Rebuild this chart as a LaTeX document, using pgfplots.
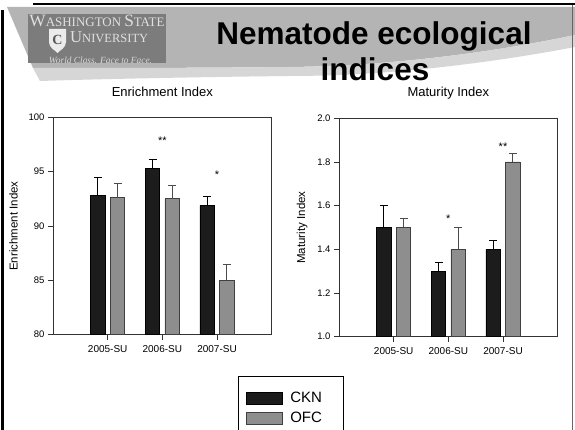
\documentclass[border=0pt]{standalone}
\usepackage{fontspec}
\setmainfont{Liberation Sans}
\newfontfamily\logoserif{Liberation Serif}
\usepackage{graphicx}
\usepackage{pgfplots}
\pgfplotsset{compat=1.18}

\definecolor{ckn}{HTML}{1C1C1C}
\definecolor{ofc}{HTML}{8E8E8E}
\definecolor{swoosh}{HTML}{B4B4B4}
\definecolor{swooshlight}{HTML}{D6D6D6}
\definecolor{logo}{HTML}{7C7C7C}

\pgfplotstableread{
x y e
0 92.8 1.7
1 95.3 0.8
2 91.9 0.8
}\eickn
\pgfplotstableread{
x y e
0 92.6 1.3
1 92.5 1.2
2 85.0 1.5
}\eiofc
\pgfplotstableread{
x y e
0 1.50 0.10
1 1.30 0.04
2 1.40 0.04
}\mickn
\pgfplotstableread{
x y e
0 1.50 0.04
1 1.40 0.10
2 1.80 0.04
}\miofc

\pgfplotsset{
  slideaxis/.style={
    scale only axis, width=218.7pt,
    xmin=-1, xmax=3,
    xtick={0,1,2}, xticklabels={2005-SU,2006-SU,2007-SU},
    tick align=outside, xtick pos=bottom, ytick pos=left,
    major tick length=5pt,
    axis line style={black!80, line width=0.8pt},
    tick style={black!80, line width=0.8pt},
    ticklabel style={font=\fontsize{9.5}{11}\selectfont},
    xticklabel style={yshift=-2pt, font=\fontsize{10}{11}\selectfont},
    /pgf/number format/assume math mode=true,
    ybar, bar width=0.265,
    title style={font=\fontsize{13}{15}\selectfont, anchor=base, at={(0.5,1)}},
    ylabel style={font=\fontsize{11.5}{13}\selectfont, anchor=center},
  },
  cknbar/.style={fill=ckn, draw=black, line width=0.8pt, bar shift=-0.18,
    error bars/y dir=plus, error bars/y explicit,
    error bars/error bar style={black, line width=0.8pt},
    error bars/error mark options={rotate=90, mark size=4pt, black, line width=0.8pt}},
  ofcbar/.style={fill=ofc, draw=black!75, line width=0.8pt, bar shift=0.18,
    error bars/y dir=plus, error bars/y explicit,
    error bars/error bar style={black!70, line width=0.8pt},
    error bars/error mark options={rotate=90, mark size=4pt, black!70, line width=0.8pt}},
}

\begin{document}
\begin{tikzpicture}
\useasboundingbox (0,0) rectangle (575pt,430pt);
\fill[white] (0,0) rectangle (575pt,430pt);
\begin{scope}[x=1pt, y=-1pt, shift={(0pt,430pt)}]
  % swoosh behind the title
  \fill[swoosh] (7,7) -- (575,7) -- (575,35) .. controls (480,55) and (380,66) .. (290,67)
      .. controls (200,68) and (100,68) .. (33,68) -- cycle;
  \fill[swooshlight] (33,68) .. controls (100,68) and (200,68) .. (290,67)
      .. controls (380,66) and (480,55) .. (575,35) -- (575,47)
      .. controls (480,65) and (380,76) .. (290,76)
      .. controls (200,77) and (100,79) .. (40,81) -- cycle;
  % slide frame
  \draw[black, line width=3pt] (2,10) -- (2,432);
  \draw[black, line width=2.5pt] (33,4) -- (577,4);
  \draw[black!60, line width=1pt] (572,5) -- (572,432);
  % logo
  \fill[logo] (28,14) rectangle (166,63);
  \node[anchor=base, text=white!88!black, inner sep=0pt] at (97,26.5)
     {\resizebox{135pt}{!}{\logoserif{\fontsize{14}{14}\selectfont W}{\fontsize{10.5}{10}\selectfont ASHINGTON} {\fontsize{14}{14}\selectfont S}{\fontsize{10.5}{10}\selectfont TATE}}};
  \fill[white!92!black] (49,29) -- (66,29) -- (66,42) .. controls (66,48) and (60,50) .. (57.5,53)
      .. controls (55,50) and (49,48) .. (49,42) -- cycle;
  \node[anchor=base, text=logo!70!black, inner sep=0pt, font=\logoserif\bfseries\fontsize{14}{14}\selectfont] at (57.5,45) {C};
  \node[anchor=base west, text=white!88!black, inner sep=0pt] at (70,43)
     {\resizebox{78pt}{!}{\logoserif{\fontsize{14}{14}\selectfont U}{\fontsize{10.5}{10}\selectfont NIVERSITY}}};
  \node[anchor=base, text=white!85!black, inner sep=0pt] at (100.5,63.5)
     {\resizebox{103pt}{!}{\logoserif\itshape\fontsize{7}{8}\selectfont World Class. Face to Face.}};
  % slide title
  \node[anchor=base, inner sep=0pt, font=\bfseries\fontsize{31.5}{32}\selectfont] at (374,45) {Nematode ecological};
  \node[anchor=base, inner sep=0pt, font=\bfseries\fontsize{31.5}{32}\selectfont] at (375,81) {indices};
\end{scope}

% Enrichment index
\begin{axis}[slideaxis, at={(53pt,95.3pt)}, anchor=south west, height=217.4pt,
  ymin=80, ymax=100, ytick={80,85,90,95,100},
  title={Enrichment Index}, title style={yshift=14.6pt},
  ylabel={Enrichment Index}, ylabel style={at={(axis description cs:-0.18,0.5)}},
  legend style={at={(axis description cs:0.846,-0.19)}, anchor=north west,
    draw=black, line width=0.9pt, font=\fontsize{15}{17}\selectfont,
    cells={anchor=west}, inner xsep=8pt, inner ysep=14pt, row sep=4pt},
]
\addplot[cknbar, legend image code/.code={\draw[fill=ckn, draw=black, line width=0.8pt] (0pt,-6pt) rectangle (36pt,6pt);}]
  table[x=x, y=y, y error=e] {\eickn};
\addlegendentry{\makebox[48pt][l]{\hspace{5pt}CKN}}
\addplot[ofcbar, legend image code/.code={\draw[fill=ofc, draw=black!75, line width=0.8pt] (0pt,-6pt) rectangle (36pt,6pt);}]
  table[x=x, y=y, y error=e] {\eiofc};
\addlegendentry{\makebox[48pt][l]{\hspace{5pt}OFC}}
\addlegendimage{empty legend}
\addlegendentry{\strut}
\node[font=\fontsize{11}{12}\selectfont] at (axis cs:1,97.8) {**};
\node[font=\fontsize{11}{12}\selectfont] at (axis cs:2,94.7) {*};
\end{axis}

% Maturity index
\begin{axis}[slideaxis, at={(339pt,93.3pt)}, anchor=south west, height=218.4pt,
  ymin=1, ymax=2, ytick={1,1.2,1.4,1.6,1.8,2},
  yticklabel style={/pgf/number format/.cd, fixed, fixed zerofill, precision=1},
  title={Maturity Index}, title style={yshift=15.6pt},
  ylabel={Maturity Index}, ylabel style={at={(axis description cs:-0.169,0.5)}},
]
\addplot[cknbar] table[x=x, y=y, y error=e] {\mickn};
\addplot[ofcbar] table[x=x, y=y, y error=e] {\miofc};
\node[font=\fontsize{11}{12}\selectfont] at (axis cs:1,1.54) {*};
\node[font=\fontsize{11}{12}\selectfont] at (axis cs:2,1.87) {**};
\end{axis}
\end{tikzpicture}
\end{document}
